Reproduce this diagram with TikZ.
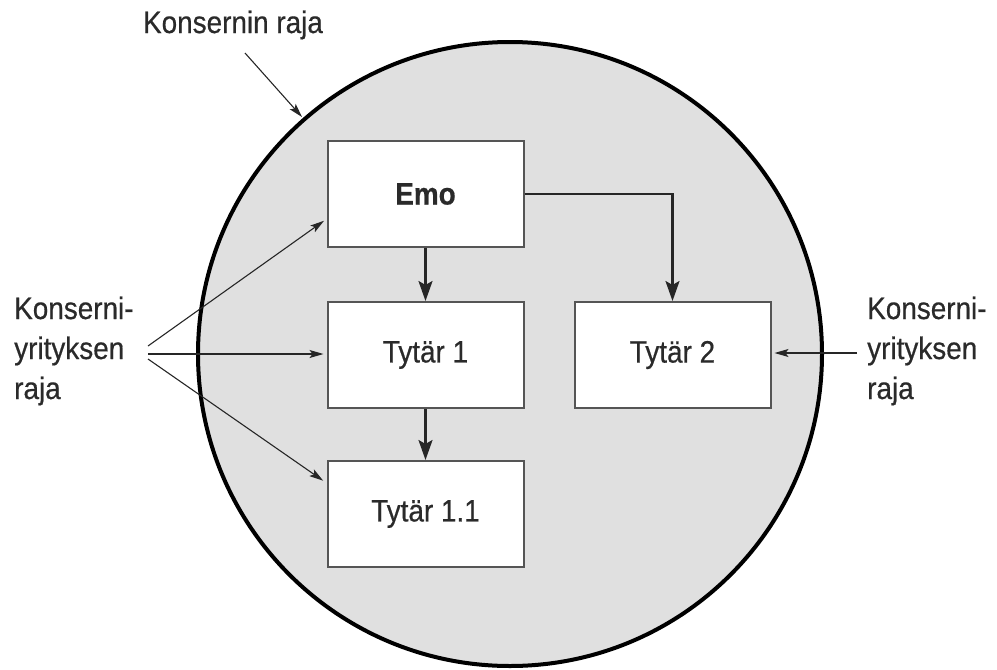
\documentclass[tikz,border=0pt]{standalone}
\usepackage{fontspec}
\setmainfont{Liberation Sans}[FakeStretch=0.9, FakeBold=0.5]
\usetikzlibrary{arrows.meta}
\definecolor{fillgray}{HTML}{E0E0E0}
\definecolor{edgegray}{HTML}{555555}
\definecolor{txt}{HTML}{2A2A2A}
\begin{document}
\begin{tikzpicture}[x=1pt,y=-1pt,
  box/.style={draw=edgegray, line width=2pt, fill=white, minimum width=196pt, minimum height=106pt, inner sep=0pt, text=txt},
  bigarrow/.style={draw=black!85, line width=2.4pt, -{Stealth[length=20pt,width=14pt,inset=4pt]}},
  thinarrow/.style={draw=black!85, line width=1.1pt, -{Stealth[length=14pt,width=8pt,inset=3pt]}},
  lbl/.style={text=txt, align=left, inner sep=0pt}]
\useasboundingbox (0,0) rectangle (997,670);
\fontsize{31}{40}\selectfont
% boundary circle
\node[circle, draw=black, line width=4pt, fill=fillgray, minimum size=624pt, inner sep=0pt] (ring) at (510,354) {};
% boxes
\node[box] (emo) at (425.5,194) {\textbf{Emo}};
\node[box] (t1) at (425.5,355) {Tytär 1};
\node[box] (t2) at (672.5,355) {Tytär 2};
\node[box] (t11) at (425.5,514) {Tytär 1.1};
% internal arrows
\draw[bigarrow] (emo.south) -- (t1.north);
\draw[bigarrow] (t1.south) -- (t11.north);
\draw[bigarrow] (emo.east) -| (t2.north);
% labels
\node[lbl, anchor=center] (top) at (233,25) {Konsernin raja};
\node[lbl, anchor=west] (left) at (14,351) {Konserni-\\yrityksen\\raja};
\node[lbl, anchor=west] (right) at (867,351) {Konserni-\\yrityksen\\raja};
% label connector start points
\coordinate (ts) at (245,53);
\coordinate (te) at (302,117);
\coordinate (l1) at (148,346);
\coordinate (l2) at (148,354);
\coordinate (l3) at (148,359);
\coordinate (r1) at (857,353);
% label arrows
\draw[thinarrow] (ts) -- (te);
\draw[thinarrow, shorten >=3pt] (l1) -- ([yshift=-25pt]emo.west);
\draw[thinarrow, shorten >=3pt] (l2) -- (t1.west |- l2);
\draw[thinarrow, shorten >=4pt] (l3) -- ([yshift=31pt]t11.west);
\draw[thinarrow, shorten >=3pt] (r1) -- (t2.east |- r1);
\end{tikzpicture}
\end{document}
